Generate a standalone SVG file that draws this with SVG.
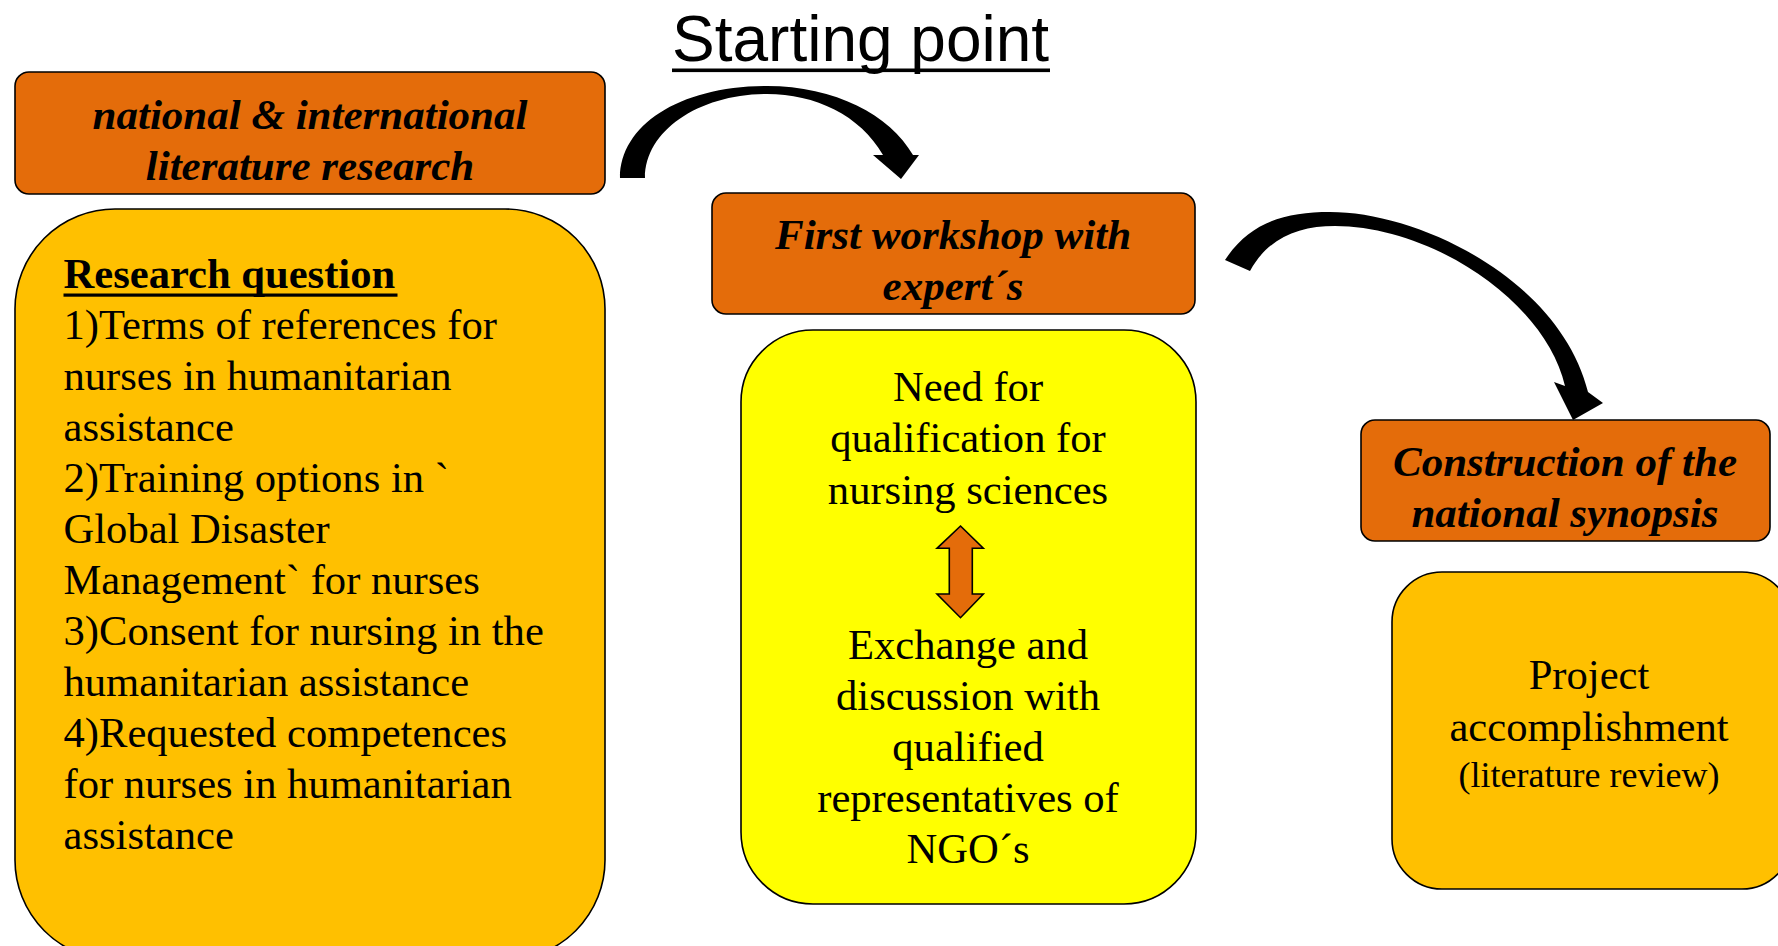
<svg xmlns="http://www.w3.org/2000/svg" width="1778" height="946" viewBox="0 0 1778 946">
<style>
.box{stroke:#000;stroke-width:1.6}
.dark{fill:#E46C0A}
.gold{fill:#FFC000}
.yel{fill:#FFFF00}
.hdr{font-family:"Liberation Serif","Times New Roman",serif;font-weight:bold;font-style:italic;font-size:43px;fill:#000;text-anchor:middle}
.body{font-family:"Liberation Serif","Times New Roman",serif;font-size:42.6px;fill:#000}
.mid{text-anchor:middle}
.small{font-size:36px}
.conn{fill:#000;stroke:none}
</style>
<rect width="1778" height="946" fill="#fff"/>
<g id="title">
<text x="672" y="61" font-family="Liberation Sans, Arial, sans-serif" font-size="64" fill="#000">Starting point</text>
<rect x="672" y="68.5" width="378" height="3.6" fill="#000"/>
</g>
<g id="literature-research">
<rect class="box dark" x="15" y="72" width="590" height="122" rx="14"/>
<text class="hdr" x="310" y="129">national &amp; international</text>
<text class="hdr" x="310" y="180">literature research</text>
</g>
<g id="research-question">
<rect class="box gold" x="15" y="209" width="590" height="751" rx="100"/>
<text class="body" x="63.5" y="288" font-weight="bold">Research question</text>
<rect x="63.5" y="293.5" width="334" height="3.2" fill="#000"/>
<text class="body" x="63.5" y="339">1)Terms of references for</text>
<text class="body" x="63.5" y="390">nurses in humanitarian</text>
<text class="body" x="63.5" y="441">assistance</text>
<text class="body" x="63.5" y="492">2)Training options in `</text>
<text class="body" x="63.5" y="543">Global Disaster</text>
<text class="body" x="63.5" y="594">Management` for nurses</text>
<text class="body" x="63.5" y="645">3)Consent for nursing in the</text>
<text class="body" x="63.5" y="696">humanitarian assistance</text>
<text class="body" x="63.5" y="747">4)Requested competences</text>
<text class="body" x="63.5" y="798">for nurses in humanitarian</text>
<text class="body" x="63.5" y="849">assistance</text>
</g>
<g id="first-workshop">
<rect class="box dark" x="712" y="193" width="483" height="121" rx="14"/>
<text class="hdr" x="953" y="249">First workshop with</text>
<text class="hdr" x="953" y="300">expert´s</text>
</g>
<g id="workshop-content">
<rect class="box yel" x="741" y="330" width="455" height="574" rx="72"/>
<text class="body mid" x="968" y="401">Need for</text>
<text class="body mid" x="968" y="452">qualification for</text>
<text class="body mid" x="968" y="504">nursing sciences</text>
<path d="M960.5,526 L983.3,548.3 L972.3,548.3 L972.3,594 L983.3,594 L960.5,617.7 L937,594 L949.3,594 L949.3,548.3 L937,548.3 Z" fill="#E46C0A" stroke="#000" stroke-width="1.6" stroke-linejoin="miter"/>
<text class="body mid" x="968" y="659">Exchange and</text>
<text class="body mid" x="968" y="710">discussion with</text>
<text class="body mid" x="968" y="761">qualified</text>
<text class="body mid" x="968" y="812">representatives of</text>
<text class="body mid" x="968" y="863">NGO´s</text>
</g>
<g id="national-synopsis">
<rect class="box dark" x="1361" y="420" width="409" height="121" rx="14"/>
<text class="hdr" x="1565" y="476">Construction of the</text>
<text class="hdr" x="1565" y="527">national synopsis</text>
</g>
<g id="project-accomplishment">
<rect class="box gold" x="1392" y="572" width="400" height="317" rx="50"/>
<text class="body mid" x="1589" y="689">Project</text>
<text class="body mid" x="1589" y="741">accomplishment</text>
<text class="body mid small" x="1589" y="787">(literature review)</text>
</g>
<g id="connectors">
<path class="conn" d="M620,178 C620,125 680,86 767,86 C835,86 890,115 913,155 L919,155 L901,179 L873,155 L883,155 C860,115 815,94 767,94 C700,94 645,130 645,178 Z"/>
<path class="conn" d="M1225,260 C1250,222 1285,212 1330,212 C1420,212 1560,280 1588,392 L1603,403 L1573,420 L1554,382 L1565,386 C1545,300 1430,226 1335,226 C1298,226 1268,238 1250,271 Z"/>
</g>
</svg>
